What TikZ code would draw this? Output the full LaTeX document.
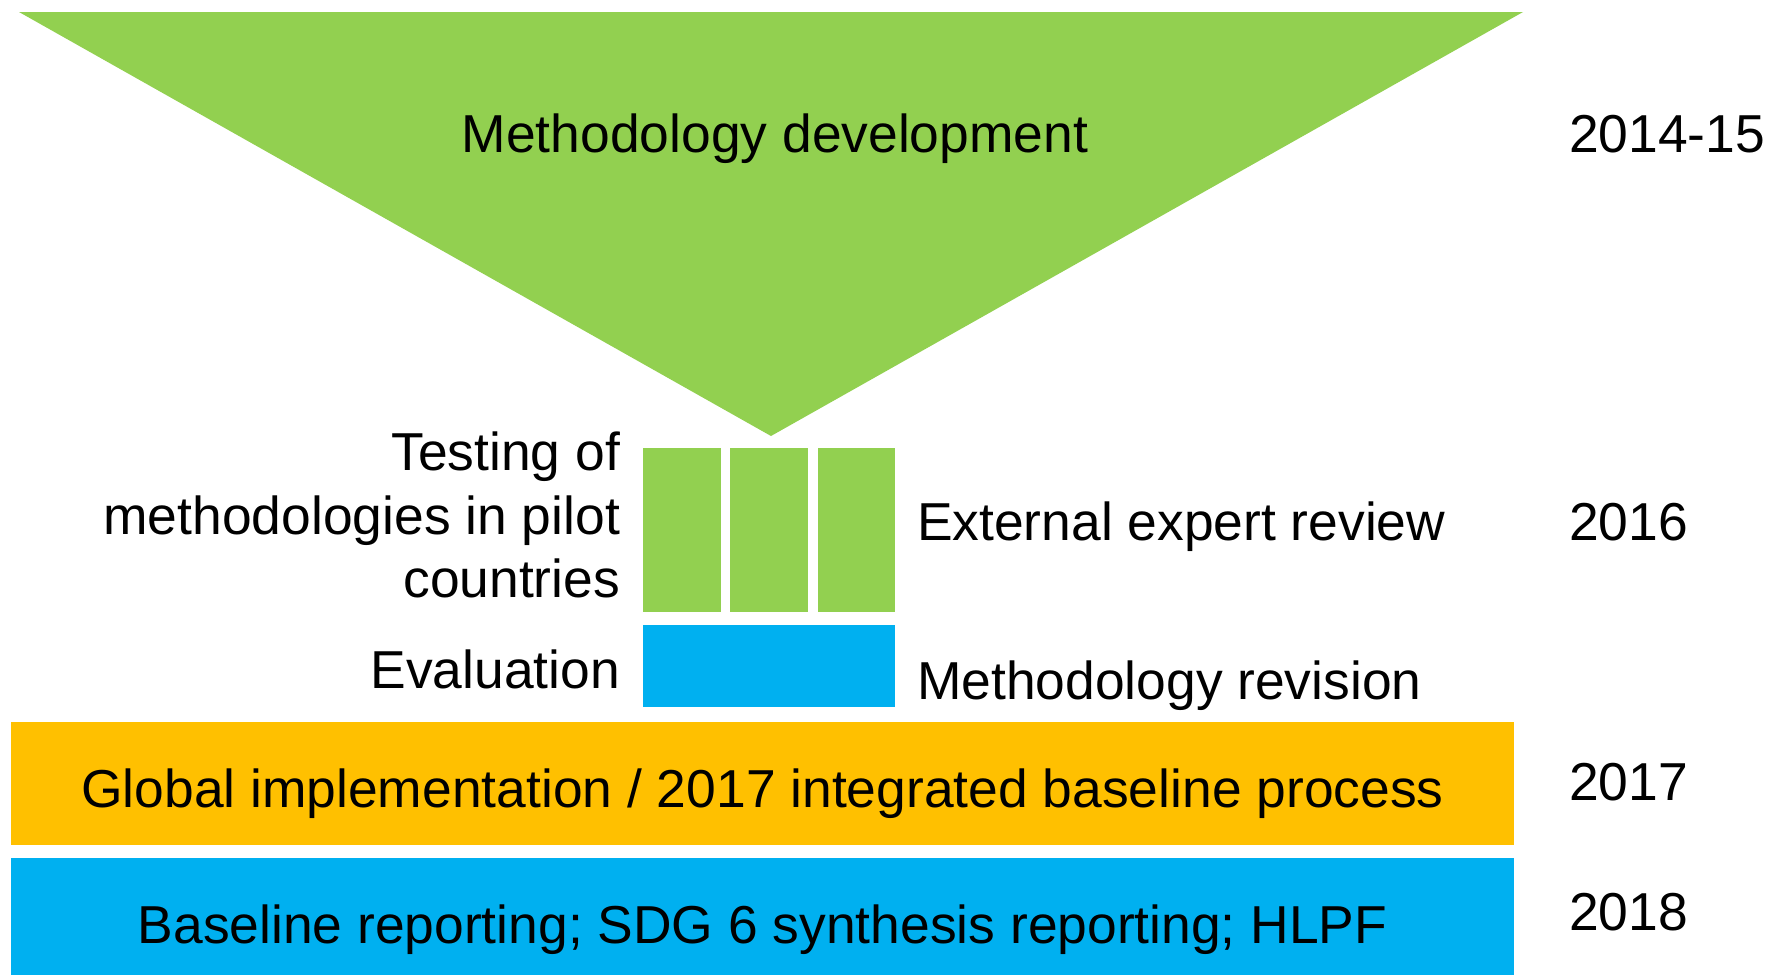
\documentclass[tikz,border=0pt]{standalone}
\usepackage{fontspec}
\setmainfont{Liberation Sans}
\definecolor{pgreen}{HTML}{92D050}
\definecolor{pblue}{HTML}{00B0F0}
\definecolor{porange}{HTML}{FFC000}
\tikzset{
  lbl/.style={inner sep=0pt, outer sep=0pt, font=\fontsize{26.7pt}{31.65pt}\selectfont, text=black},
}
\begin{document}
\begin{tikzpicture}[x=0.5pt, y=-0.5pt]
\useasboundingbox (0,0) rectangle (1771,975);
% shapes
\fill[pgreen] (19,12) -- (1523,12) -- (771,436) -- cycle;
\fill[pgreen] (643,448) rectangle (721,612);
\fill[pgreen] (730,448) rectangle (808,612);
\fill[pgreen] (818,448) rectangle (895,612);
\fill[pblue] (643,625) rectangle (895,707);
\fill[porange] (11,722) rectangle (1514,845);
\fill[pblue] (11,858) rectangle (1514,975);
% texts
\node[lbl, anchor=base] (md) at (775,152.7) {Methodology development};
\node[lbl, anchor=base west] (y1) at (1569,152.7) {2014-15};
\node[lbl, anchor=base east, align=right] (test) at (620,597.3) {Testing of\\methodologies in pilot\\countries};
\node[lbl, anchor=base east] (eval) at (620,688.3) {Evaluation};
\node[lbl, anchor=base west] (ext) at (917,540.7) {External expert review};
\node[lbl, anchor=base west] (y2) at (1569,540.7) {2016};
\node[lbl, anchor=base west] (rev) at (917,699.3) {Methodology revision};
\node[lbl, anchor=base] (glob) at (762.5,807) {Global implementation / 2017 integrated baseline process};
\node[lbl, anchor=base west] (y3) at (1569,800) {2017};
\node[lbl, anchor=base] (base) at (762.5,943) {Baseline reporting; SDG 6 synthesis reporting; HLPF};
\node[lbl, anchor=base west] (y4) at (1569,930) {2018};
\end{tikzpicture}
\end{document}
